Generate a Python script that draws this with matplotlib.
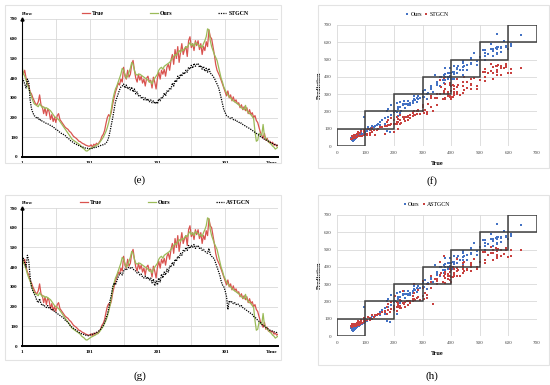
import matplotlib
matplotlib.use("Agg")
import matplotlib.pyplot as plt
from matplotlib.patches import Rectangle

plt.rcParams["font.family"] = ["Liberation Serif", "DejaVu Serif"]

# time steps (every 2nd step of the test window)
TIME = list(range(1, 380, 2))

TRUE = [
    445, 420, 440, 400, 375, 360, 330, 320, 300, 285,
    270, 265, 280, 315, 265, 255, 220, 250, 210, 245,
    230, 190, 215, 180, 200, 175, 210, 220, 190, 180,
    170, 160, 150, 145, 140, 130, 125, 115, 105, 100,
    95, 88, 80, 78, 72, 68, 65, 60, 58, 55,
    55, 62, 50, 65, 58, 70, 62, 75, 85, 105,
    115, 135, 170, 200, 215, 205, 230, 270, 300, 330,
    350, 375, 365, 395, 380, 455, 410, 395, 440, 405,
    420, 470, 490, 440, 400, 380, 420, 390, 410, 375,
    395, 360, 400, 410, 380, 390, 350, 405, 380, 345,
    400, 430, 395, 440, 420, 445, 410, 455, 470, 440,
    490, 520, 470, 545, 500, 560, 480, 530, 575, 520,
    545, 560, 510, 590, 610, 555, 575, 540, 590, 565,
    590, 545, 575, 520, 560, 540, 585, 560, 645, 610,
    600, 560, 520, 470, 440, 425, 410, 390, 370, 350,
    330, 310, 335, 300, 315, 285, 305, 280, 290, 270,
    275, 250, 265, 240, 255, 235, 250, 220, 240, 215,
    225, 200, 210, 185, 175, 150, 125, 110, 95, 120,
    85, 95, 75, 80, 70, 75, 60, 65, 55, 60,
]

OURS = [
    460, 425, 410, 390, 365, 345, 330, 305, 285, 270,
    265, 260, 255, 270, 260, 250, 255, 245, 250, 245,
    240, 235, 225, 215, 205, 200, 195, 190, 180, 170,
    160, 150, 140, 130, 120, 110, 100, 90, 85, 80,
    75, 70, 65, 60, 50, 45, 40, 32, 30, 35,
    40, 45, 48, 52, 55, 60, 65, 70, 80, 90,
    100, 115, 130, 150, 175, 205, 245, 290, 320, 345,
    360, 380, 400, 420, 450, 440, 420, 400, 410, 430,
    450, 480, 470, 440, 420, 415, 420, 420, 415, 410,
    405, 400, 395, 390, 380, 385, 370, 390, 400, 410,
    420, 440, 450, 455, 445, 460, 465, 470, 475, 480,
    490, 500, 510, 520, 515, 530, 540, 530, 545, 540,
    550, 560, 555, 570, 580, 565, 575, 560, 580, 575,
    570, 560, 565, 555, 575, 590, 610, 650, 645, 590,
    560, 540, 520, 505, 490, 460, 430, 400, 380, 355,
    340, 325, 315, 305, 300, 290, 285, 280, 275, 270,
    265, 258, 250, 245, 240, 262, 235, 228, 220, 215,
    205, 195, 130, 80, 85, 120, 115, 110, 165, 105,
    95, 85, 80, 70, 65, 55, 50, 40, 45, 50,
]

STGCN = [
    400, 390, 370, 350, 395, 380, 290, 245, 225, 210,
    205, 195, 200, 185, 190, 180, 178, 175, 170, 168,
    165, 160, 158, 150, 148, 140, 138, 130, 125, 120,
    118, 112, 108, 100, 95, 90, 82, 78, 72, 68,
    65, 60, 58, 55, 52, 50, 48, 45, 45, 42,
    42, 45, 43, 48, 46, 50, 52, 55, 58, 62,
    62, 65, 70, 80, 100, 130, 165, 200, 240, 280,
    300, 320, 340, 355, 360, 370, 350, 365, 345, 355,
    340, 355, 330, 345, 320, 330, 310, 315, 300, 305,
    290, 300, 285, 295, 280, 290, 275, 285, 270, 280,
    270, 295, 285, 305, 300, 325, 310, 335, 330, 350,
    345, 375, 360, 390, 380, 410, 395, 420, 410, 430,
    420, 440, 430, 455, 445, 465, 450, 475, 460, 470,
    475, 455, 465, 445, 460, 435, 450, 430, 450, 425,
    420, 410, 400, 385, 370, 355, 330, 300, 270, 240,
    225, 210, 205, 200, 195, 200, 190, 185, 188, 180,
    178, 170, 172, 165, 160, 158, 152, 148, 145, 140,
    135, 130, 125, 120, 115, 110, 105, 100, 95, 90,
    88, 82, 80, 75, 72, 68, 65, 62, 60, 58,
]

ASTGCN = [
    430, 445, 420, 400, 460, 430, 350, 300, 280, 265,
    250, 230, 220, 240, 215, 205, 210, 200, 195, 205,
    190, 195, 180, 185, 175, 170, 165, 160, 155, 150,
    145, 140, 130, 125, 120, 110, 100, 95, 90, 85,
    80, 75, 70, 65, 62, 60, 58, 55, 55, 52,
    55, 58, 60, 62, 65, 68, 72, 78, 85, 95,
    105, 120, 140, 160, 190, 230, 260, 300, 320, 310,
    330, 350, 365, 370, 360, 380, 390, 385, 395, 400,
    395, 400, 390, 385, 380, 370, 375, 360, 365, 350,
    345, 355, 340, 350, 335, 345, 320, 340, 305, 330,
    310, 345, 325, 365, 345, 375, 360, 390, 375, 405,
    400, 425, 410, 440, 430, 455, 445, 470, 460, 485,
    480, 500, 485, 510, 495, 510, 500, 515, 495, 505,
    510, 495, 500, 485, 490, 480, 475, 470, 495, 465,
    455, 450, 440, 420, 400, 380, 360, 330, 310, 300,
    280, 250, 185, 230, 220, 225, 215, 220, 210, 215,
    210, 200, 205, 195, 190, 185, 180, 175, 170, 165,
    160, 150, 145, 140, 130, 125, 120, 110, 105, 100,
    95, 90, 85, 80, 78, 75, 72, 70, 68, 72,
]

TIME_TICKS = [1, 101, 201, 301]
FLOW_TICKS = [0, 100, 200, 300, 400, 500, 600, 700]

RED = "#D9534F"
GREEN = "#9BBB59"
BLUE = "#4472C4"
DOT_RED = "#C8413F"
GRID = "#D9D9D9"

W, H = 550, 385
fig = plt.figure(figsize=(W / 100, H / 100), dpi=100)


def px_axes(x0, x1, ytop, ybot):
    return fig.add_axes([x0 / W, 1 - ybot / H, (x1 - x0) / W, (ybot - ytop) / H])


def frame(x0, x1, ytop, ybot):
    fig.add_artist(Rectangle((x0 / W, 1 - ybot / H), (x1 - x0) / W, (ybot - ytop) / H,
                             transform=fig.transFigure, fill=False, ec="#E3E3E3", lw=0.8))


def line_panel(ax, base, base_name):
    ax.plot(TIME, TRUE, color=RED, lw=0.9, label="True")
    ax.plot(TIME, OURS, color=GREEN, lw=0.9, label="Ours")
    ax.plot(TIME, base, color="black", lw=0.9, ls=(0, (1, 0.9)), label=base_name)
    ax.set_xlim(1, 379)
    ax.set_ylim(0, 700)
    ax.set_xticks(TIME_TICKS, labels=[str(t) for t in TIME_TICKS],
                  fontsize=3.6, fontweight="bold")
    ax.set_xticks([t + 50 for t in TIME_TICKS], minor=True)
    ax.set_yticks(FLOW_TICKS, labels=[str(v) for v in FLOW_TICKS],
                  fontsize=3.6, fontweight="bold")
    ax.tick_params(which="both", length=0, pad=3)
    ax.grid(True, which="both", color=GRID, lw=0.6)
    ax.set_axisbelow(True)
    for s in ["top", "right"]:
        ax.spines[s].set_visible(False)
    ax.spines["left"].set_linewidth(0.8)
    ax.spines["bottom"].set_linewidth(1.4)
    ax.plot(0, 1, marker="^", color="black", ms=2.2, transform=ax.transAxes, clip_on=False)
    ax.text(0.0, 1.038, "Flow", transform=ax.transAxes, fontsize=3.8,
            fontweight="bold", ha="left", va="center")
    ax.text(0.975, -0.045, "Time", transform=ax.transAxes, fontsize=3.8,
            fontweight="bold", ha="center", va="center")
    ax.legend(loc="center", bbox_to_anchor=(0.56, 1.043), ncol=3, frameon=False,
              prop={"size": 4.2, "weight": "bold"}, handlelength=1.4,
              handletextpad=0.35, columnspacing=7.8, borderaxespad=0)


def scatter_panel(ax, base, base_name):
    ax.scatter(TRUE, OURS, s=2.6, marker="s", color=BLUE, lw=0, label="Ours")
    ax.scatter(TRUE, base, s=2.6, marker="s", color=DOT_RED, lw=0, label=base_name)
    for a, b in zip(FLOW_TICKS[:-1], FLOW_TICKS[1:]):
        ax.add_patch(Rectangle((a, a), b - a, b - a, fill=False, ec="#404040", lw=1.1, zorder=3))
    ax.set_xlim(0, 700)
    ax.set_ylim(0, 700)
    ax.set_xticks(FLOW_TICKS, labels=[str(v) for v in FLOW_TICKS], fontsize=3.6)
    ax.set_yticks(FLOW_TICKS, labels=[str(v) for v in FLOW_TICKS], fontsize=3.6)
    ax.tick_params(length=0, pad=3.5, colors="#404040")
    ax.grid(True, color=GRID, lw=0.6)
    ax.set_axisbelow(True)
    for s in ax.spines.values():
        s.set_visible(False)
    ax.set_xlabel("True", fontsize=4.4, fontweight="bold")
    ax.xaxis.set_label_coords(0.5, -0.128)
    ax.set_ylabel("Prediction", fontsize=4.4, fontweight="bold")
    ax.yaxis.set_label_coords(-0.075, 0.5)
    ax.legend(loc="center", bbox_to_anchor=(0.45, 1.09), ncol=2, frameon=False,
              prop={"size": 4.2}, handlelength=0.6, handletextpad=0.3,
              columnspacing=0.4, borderaxespad=0, markerscale=1.2)


frame(5, 281, 5, 163)
frame(5, 281, 195, 360)
frame(318, 549, 5, 168)
frame(318, 549, 195, 365)

ax_e = px_axes(22, 278, 19, 157)
line_panel(ax_e, STGCN, "STGCN")
ax_g = px_axes(22, 278, 208, 346)
line_panel(ax_g, ASTGCN, "ASTGCN")

ax_f = px_axes(336.7, 537, 25, 146)
scatter_panel(ax_f, STGCN, "STGCN")
ax_h = px_axes(336.7, 537, 215, 336)
scatter_panel(ax_h, ASTGCN, "ASTGCN")

for lab, x, y in [("(e)", 140, 180), ("(f)", 432, 181), ("(g)", 140, 376), ("(h)", 432, 376)]:
    fig.text(x / W, 1 - y / H, lab, fontsize=8, ha="center", va="center")

fig.savefig("out.png", dpi=100, facecolor="white")
